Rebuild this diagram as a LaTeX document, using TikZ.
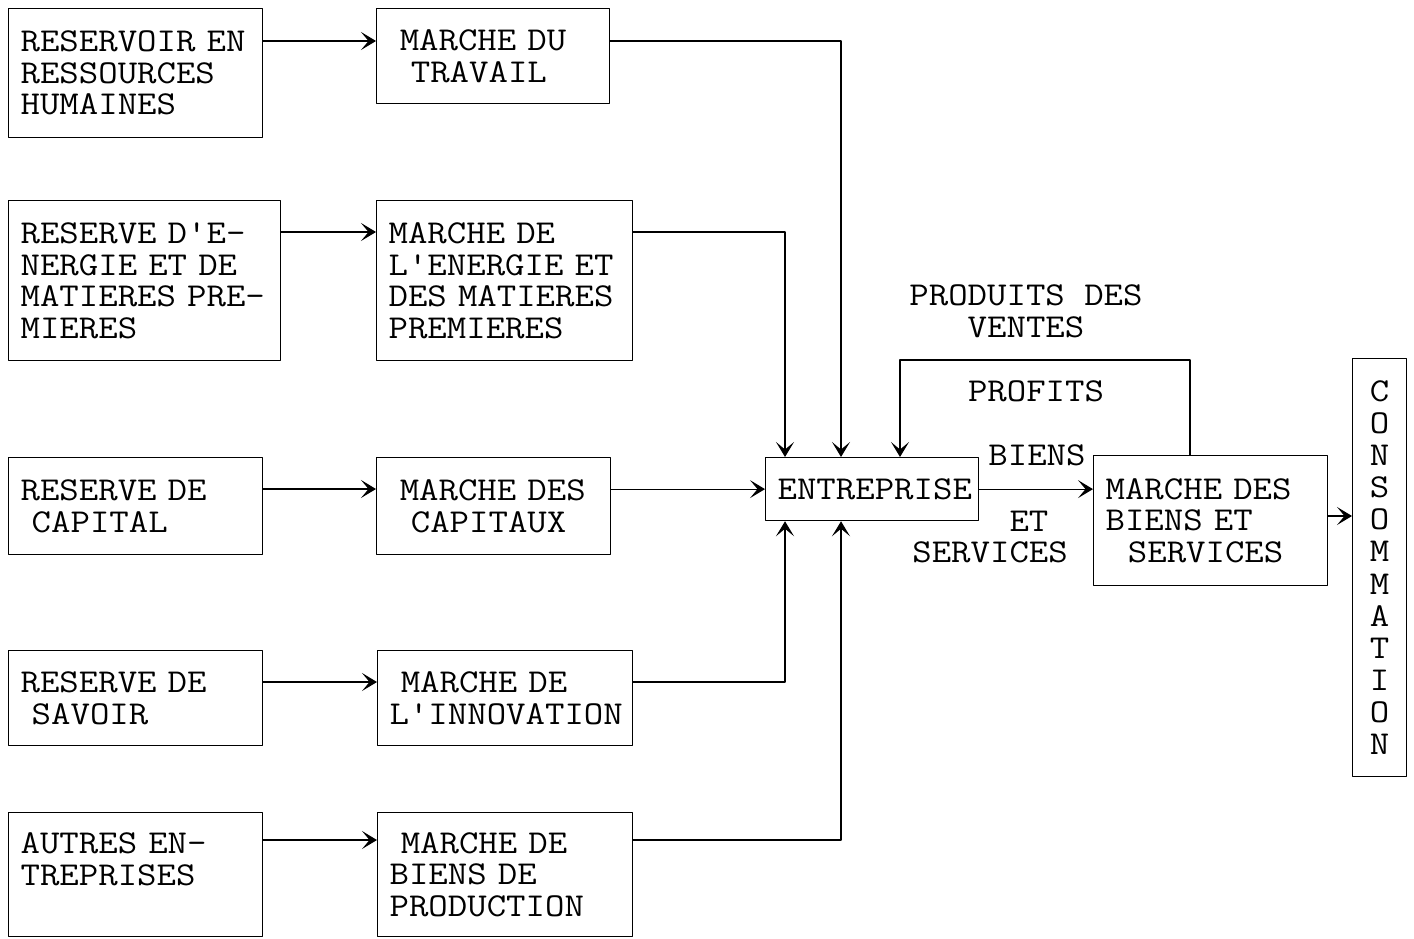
\documentclass[tikz,border=0pt]{standalone}
\usepackage{fontspec}
\setmonofont[FakeStretch=1.13]{Latin Modern Mono}
\usetikzlibrary{arrows.meta}

\tikzset{
  box/.style={draw, line width=0.7pt, anchor=north west, inner xsep=2.4mm, inner ysep=0pt, align=left},
  flow/.style={line width=0.7pt, -{Stealth[length=3mm,width=3.6mm,inset=1.5mm]}},
  lbl/.style={inner sep=0pt, align=center}
}

\begin{document}
\begin{tikzpicture}[x=0.2mm,y=-0.2mm,line cap=round,line join=round,
    font=\ttfamily\fontsize{19}{18}\selectfont]
  \useasboundingbox (0,0) rectangle (1414,938);
  % reserves
  \node[box,text width=46mm,minimum height=25.8mm] (hum) at (8,8) {RESERVOIR~EN\\RESSOURCES\\HUMAINES};
  \node[box,text width=49.6mm,minimum height=32mm] (ener) at (8,200) {RESERVE~D'E-\\NERGIE~ET~DE\\MATIERES~PRE-\\MIERES};
  \node[box,text width=46mm,minimum height=19.4mm] (cap) at (8,457) {RESERVE~DE\\~CAPITAL};
  \node[box,text width=46mm,minimum height=19mm] (sav) at (8,650) {RESERVE~DE\\~SAVOIR};
  \node[box,text width=46mm,minimum height=24.8mm] (autr) at (8,812) {AUTRES~EN-\\TREPRISES\\~};
  % marches
  \node[box,text width=41.8mm,minimum height=19mm] (trav) at (376,8) {~MARCHE~DU\\~~TRAVAIL};
  \node[box,text width=46.4mm,minimum height=32mm] (menr) at (376,200) {MARCHE~DE\\L'ENERGIE~ET\\DES~MATIERES\\PREMIERES};
  \node[box,text width=42mm,minimum height=19.4mm] (mcap) at (376,457) {~MARCHE~DES\\~~CAPITAUX};
  \node[box,text width=46.2mm,minimum height=19mm] (minn) at (377,650) {~MARCHE~DE\\L'INNOVATION};
  \node[box,text width=46.2mm,minimum height=24.8mm] (mbp) at (377,812) {~MARCHE~DE\\BIENS~DE\\PRODUCTION};
  % entreprise et aval
  \node[box,text width=37.8mm,minimum height=12.6mm] (ent) at (765,457) {ENTREPRISE};
  \node[box,text width=42mm,minimum height=26mm] (mbs) at (1093,455) {MARCHE~DES\\BIENS~ET\\~~SERVICES};
  \node[box,align=center,inner xsep=0pt,minimum width=10.8mm,minimum height=83.6mm,
    font=\ttfamily\fontsize{19}{18.3}\selectfont] (cons) at (1352,358)
    {C\\O\\N\\S\\O\\M\\M\\A\\T\\I\\O\\N};
  % textes
  \node[lbl] (ventes) at (1026,311) {PRODUITS~DES\\VENTES};
  \node[lbl] (profits) at (1036,391) {PROFITS};
  \node[lbl] (biens) at (1037,455) {BIENS};
  \node[lbl,align=left,anchor=west] (serv) at (912,537) {~~~~~ET\\SERVICES};
  % fleches
  \draw[flow] (hum.east |- 0,41) -- (trav.west |- 0,41);
  \draw[flow] (ener.east |- 0,232) -- (menr.west |- 0,232);
  \draw[flow] (cap.east |- 0,489) -- (mcap.west |- 0,489);
  \draw[flow] (sav.east |- 0,682) -- (minn.west |- 0,682);
  \draw[flow] (autr.east |- 0,840) -- (mbp.west |- 0,840);
  \draw[flow] (trav.east |- 0,41) -| (841,0 |- ent.north);
  \draw[flow] (menr.east |- 0,232) -| (785,0 |- ent.north);
  \draw[flow] (mcap.east |- ent.west) -- (ent.west);
  \draw[flow] (minn.east |- 0,682) -| (785,0 |- ent.south);
  \draw[flow] (mbp.east |- 0,840) -| (841,0 |- ent.south);
  \draw[flow] (ent.east) -- (mbs.west |- ent.east);
  \draw[flow] (1190,0 |- mbs.north) -- (1190,360) -| (900,0 |- ent.north);
  \draw[flow] (mbs.east |- 0,516) -- (cons.west |- 0,516);
\end{tikzpicture}
\end{document}
